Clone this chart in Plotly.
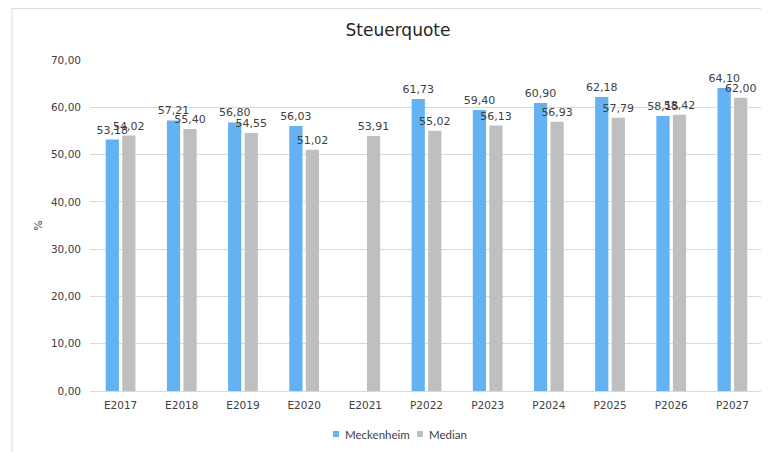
import plotly.graph_objects as go

categories = ["E2017", "E2018", "E2019", "E2020", "E2021", "P2022", "P2023", "P2024", "P2025", "P2026", "P2027"]
meckenheim = [53.18, 57.21, 56.80, 56.03, None, 61.73, 59.40, 60.90, 62.18, 58.15, 64.10]
median = [54.02, 55.40, 54.55, 51.02, 53.91, 55.02, 56.13, 56.93, 57.79, 58.42, 62.00]
series_names = ["Meckenheim", "Median"]
series_colors = ["#62B2F4", "#BFBFBF"]
y_ticks = [0, 10, 20, 30, 40, 50, 60, 70]

# the page body adds an 8px margin; work in screenshot pixels and shift
OFF = 8
W, H = 769 - OFF, 452 - OFF
PL, PR, PT, PB = 90, 763, 60, 391  # plot area in screenshot pixels
ML, MR, MT, MB = PL - OFF, W - (PR - OFF), PT - OFF, H - (PB - OFF)
PW = W - ML - MR
PH = H - MT - MB

label_font = dict(family="DejaVu Sans", size=11, color="#404040")

fig = go.Figure()
for name, vals, col in zip(series_names, [meckenheim, median], series_colors):
    fig.add_trace(go.Bar(
        x=categories, y=vals, name=name,
        marker=dict(color=col, line=dict(width=0)),
        texttemplate="%{y:.2f}", textposition="outside", constraintext="none",
        textfont=label_font, cliponaxis=False, showlegend=False,
    ))

def px_x(p):
    return (p - OFF - ML) / PW

def px_y(p):
    return (H - MB - (p - OFF)) / PH

legend_pos = [(336, 343), (420, 427)]
shapes = [
    dict(type="rect", xref="paper", yref="paper",
         x0=px_x(12), x1=px_x(800), y0=px_y(480), y1=px_y(8.5),
         line=dict(color="#D9D9D9", width=1), fillcolor="rgba(0,0,0,0)", layer="below"),
]
annotations = []
for (mx, tx), name, col in zip(legend_pos, series_names, series_colors):
    shapes.append(dict(type="rect", xref="paper", yref="paper",
                       x0=px_x(mx - 3), x1=px_x(mx + 3), y0=px_y(437), y1=px_y(431),
                       line=dict(width=0), fillcolor=col))
    annotations.append(dict(text=name, xref="paper", yref="paper", x=px_x(tx), y=px_y(434),
                            xanchor="left", yanchor="middle", showarrow=False,
                            font=dict(family="Lato", size=11.5, color="#404040")))

fig.update_layout(
    width=W, height=H,
    margin=dict(l=ML, r=MR, t=MT, b=MB, autoexpand=False),
    paper_bgcolor="white", plot_bgcolor="white",
    separators=",.",
    showlegend=False,
    barmode="group", bargap=0.46, bargroupgap=0.2,
    title=dict(text="Steuerquote", x=(398 - OFF) / W, xanchor="center",
               y=1 - (30 - OFF) / H, yanchor="middle",
               font=dict(family="DejaVu Sans", size=17, color="#262626")),
    font=dict(family="DejaVu Sans", size=10.5, color="#404040"),
    xaxis=dict(showgrid=False, showline=True, linecolor="#D9D9D9", linewidth=1,
               ticks="", automargin=False, ticklabelstandoff=4,
               tickfont=dict(family="DejaVu Sans", size=10.5, color="#404040")),
    yaxis=dict(range=[0, 70], tickvals=y_ticks, tickformat=".2f", showgrid=True,
               gridcolor="#D9D9D9", gridwidth=1, zeroline=False, showline=False,
               ticks="", ticklen=0, automargin=False, ticklabelstandoff=8,
               tickfont=dict(family="DejaVu Sans", size=10.5, color="#404040"),
               title=dict(text="%", font=dict(family="DejaVu Sans", size=10.5, color="#404040"),
                          standoff=6)),
    shapes=shapes,
    annotations=annotations,
)

fig.write_html("out.html")
